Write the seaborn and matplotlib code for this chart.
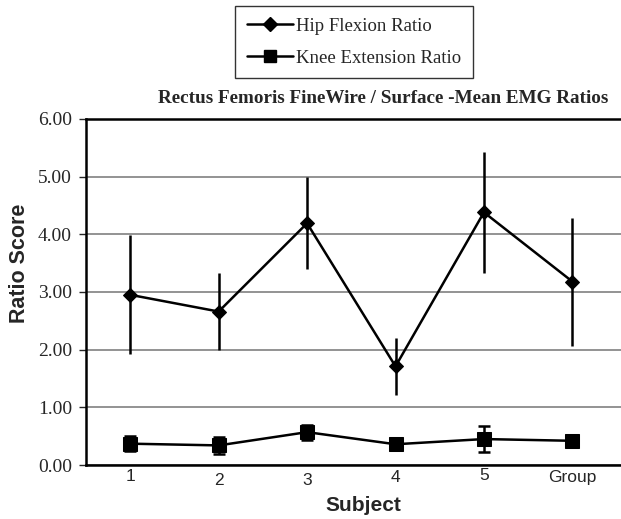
import matplotlib
matplotlib.use("Agg")
import matplotlib.pyplot as plt
import matplotlib.transforms as mtrans
import seaborn as sns
import numpy as np
import pandas as pd
from matplotlib.lines import Line2D

subjects = ["1", "2", "3", "4", "5", "Group"]
hip_mean = [2.95, 2.66, 4.19, 1.71, 4.38, 3.18]
hip_err = [1.03, 0.67, 0.80, 0.50, 1.05, 1.11]
knee_mean = [0.37, 0.34, 0.57, 0.36, 0.45, 0.42]
knee_err = [0.13, 0.15, 0.13, 0.06, 0.22, 0.06]
yticks = [0, 1, 2, 3, 4, 5, 6]

sns.set_style("white")
fig = plt.figure(figsize=(6.21, 5.19), dpi=100)
ax = fig.add_axes([0.1385, 0.104, 0.8615, 0.667])

pos = np.arange(1, len(subjects) + 1)
df = pd.DataFrame({"x": np.concatenate([pos, pos]),
                   "y": hip_mean + knee_mean,
                   "series": ["Hip Flexion Ratio"] * 6 + ["Knee Extension Ratio"] * 6})

ax.errorbar(pos, hip_mean, yerr=hip_err, fmt="none", ecolor="black", elinewidth=1.8, capsize=0, zorder=2)
ax.errorbar(pos, knee_mean, yerr=knee_err, fmt="none", ecolor="black", elinewidth=1.8, capsize=4.5, capthick=1.8, zorder=2)
sns.lineplot(data=df, x="x", y="y", style="series", markers={"Hip Flexion Ratio": "D", "Knee Extension Ratio": "s"},
             dashes=False, color="black", linewidth=1.8, markersize=8, markeredgecolor="black", ax=ax, zorder=3,
             legend=False)
for ln in ax.get_lines():
    if ln.get_marker() == "s":
        ln.set_markersize(9.5)
    elif ln.get_marker() == "D":
        ln.set_markersize(7)

ax.set_xlim(0.5, 6.55)
ax.set_ylim(0, 6)
ax.set_yticks(yticks)
ax.set_yticklabels([f"{v:.2f}" for v in yticks], fontfamily="Liberation Serif", fontsize=14)
ax.set_xticks(pos)
ax.set_xticklabels(subjects, fontfamily="Liberation Sans", fontsize=12.5)
ax.tick_params(axis="y", direction="out", length=5, width=1, left=True, pad=5)
ax.tick_params(axis="x", length=0, pad=4)
# slight staggering of x tick labels as in the original
offsets_px = [2, -2, -2, 1, 3, 1]
for lab, off in zip(ax.get_xticklabels(), offsets_px):
    lab.set_transform(lab.get_transform() + mtrans.ScaledTranslation(0, off / 100, fig.dpi_scale_trans))

ax.yaxis.grid(True, color="#808080", linewidth=1.2)
ax.set_axisbelow(True)
ax.spines["right"].set_visible(False)
for s in ["left", "bottom", "top"]:
    ax.spines[s].set_visible(True)
    ax.spines[s].set_color("black")
    ax.spines[s].set_linewidth(1.8)

ax.set_xlabel("Subject", fontfamily="Liberation Sans", fontweight="bold", fontsize=15)
ax.set_ylabel("Ratio Score", fontfamily="Liberation Sans", fontweight="bold", fontsize=15.5)
ax.xaxis.set_label_coords(0.518, -0.09)
ax.yaxis.set_label_coords(-0.105, 0.584)

fig.text(0.617, 0.811, "Rectus Femoris FineWire / Surface -Mean EMG Ratios", ha="center", va="center",
         fontfamily="Liberation Serif", fontweight="bold", fontsize=13.8)

handles = [Line2D([], [], color="black", marker="D", markersize=7, linewidth=1.8),
           Line2D([], [], color="black", marker="s", markersize=9, linewidth=1.8)]
leg = fig.legend(handles, ["Hip Flexion Ratio", "Knee Extension Ratio"], loc="center",
                 bbox_to_anchor=(0.570, 0.919), prop={"family": "Liberation Serif", "size": 13.5},
                 frameon=True, fancybox=False, edgecolor="black", handlelength=2.5, handletextpad=0.15,
                 labelspacing=0.8, borderpad=0.6, borderaxespad=0)
leg.get_frame().set_linewidth(1.0)

fig.savefig("out.png", dpi=100)
